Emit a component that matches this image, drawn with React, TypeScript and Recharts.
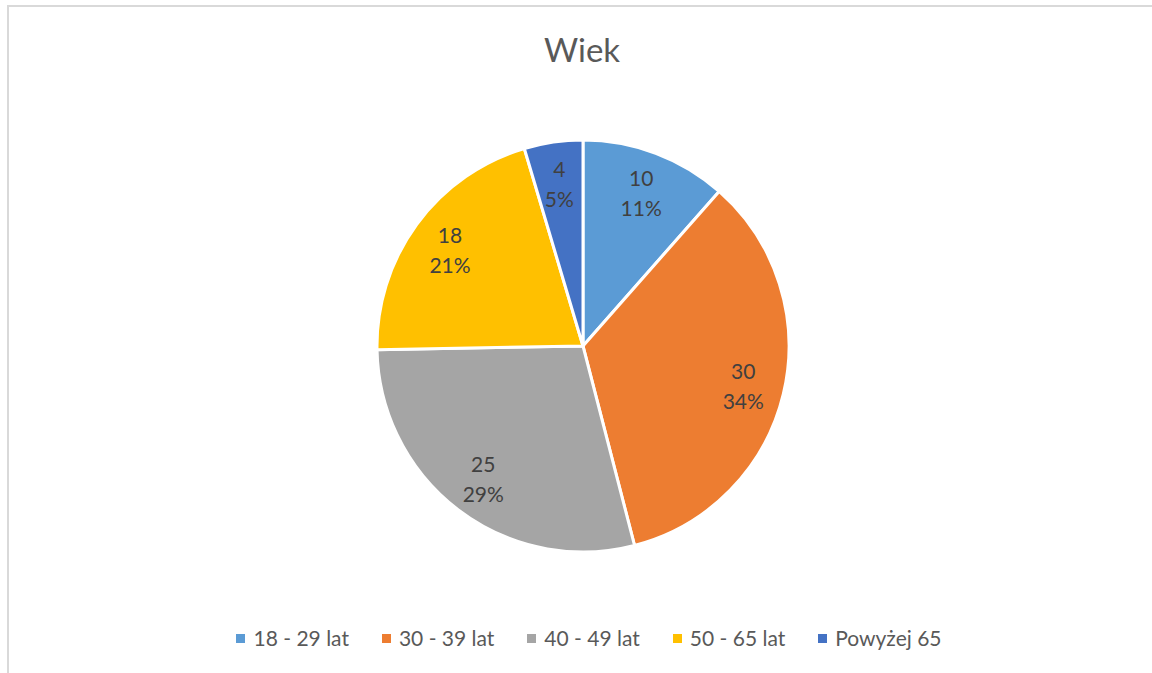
import React from "react";
import { PieChart, Pie, Cell, Legend } from "recharts";

const categories = ["18 - 29 lat", "30 - 39 lat", "40 - 49 lat", "50 - 65 lat", "Powyżej 65"];
const counts = [10, 30, 25, 18, 4];
const colors = ["#5B9BD5", "#ED7D31", "#A5A5A5", "#FFC000", "#4472C4"];
const title = "Wiek";

const data = categories.map((name, i) => ({ name, value: counts[i] }));

const FONT = "Lato, 'Open Sans', sans-serif";
const RAD = Math.PI / 180;

const renderLabel = (props: any) => {
  const { cx, cy, midAngle, outerRadius, value, percent } = props;
  const r = outerRadius * 0.8;
  const x = cx + r * Math.cos(-midAngle * RAD);
  const y = cy + r * Math.sin(-midAngle * RAD);
  return (
    <text x={x} y={y} fill="#404040" textAnchor="middle" fontFamily={FONT} fontSize={21}>
      <tspan x={x} y={y - 14} dominantBaseline="central">{value}</tspan>
      <tspan x={x} y={y + 16} dominantBaseline="central">{`${Math.round(percent * 100)}%`}</tspan>
    </text>
  );
};

const renderLegend = (props: any) => {
  const payload = props.payload && props.payload.length
    ? props.payload
    : categories.map((c, i) => ({ value: c, color: colors[i] }));
  return (
    <div style={{ display: "flex", justifyContent: "center", alignItems: "center", paddingLeft: 26, fontFamily: FONT }}>
      {payload.map((p: any, i: number) => (
        <div key={i} style={{ display: "flex", alignItems: "center", marginRight: i < payload.length - 1 ? 33 : 0 }}>
          <span style={{ display: "inline-block", width: 9, height: 9, background: p.color, marginRight: 8 }} />
          <span style={{ fontSize: 21, lineHeight: "24px", color: "#595959", whiteSpace: "nowrap" }}>{p.value}</span>
        </div>
      ))}
    </div>
  );
};

export default function App() {
  return (
    <div style={{ position: "fixed", left: 0, top: 0, width: 1152, height: 673, overflow: "hidden", background: "#fff" }}>
      <div style={{ position: "absolute", left: 7, top: 5, width: 1180, height: 720, border: "2px solid #D9D9D9", boxSizing: "border-box" }} />
      <div style={{ position: "absolute", left: 0, top: 0 }}>
        <PieChart width={1152} height={673} margin={{ top: 0, right: 0, bottom: 0, left: 0 }}>
          <text x={582} y={49} textAnchor="middle" dominantBaseline="central" fill="#595959" fontFamily={FONT} fontSize={33}>{title}</text>
          <Pie
            data={data}
            dataKey="value"
            nameKey="name"
            cx={583}
            cy={346}
            outerRadius={206}
            startAngle={90}
            endAngle={-270}
            stroke="#FFFFFF"
            strokeWidth={3}
            label={renderLabel}
            labelLine={false}
            isAnimationActive={false}
          >
            {data.map((d, i) => (
              <Cell key={d.name} fill={colors[i]} />
            ))}
          </Pie>
          <Legend content={renderLegend} verticalAlign="bottom" wrapperStyle={{ top: 626, left: 0, width: 1152 }} />
        </PieChart>
      </div>
    </div>
  );
}
